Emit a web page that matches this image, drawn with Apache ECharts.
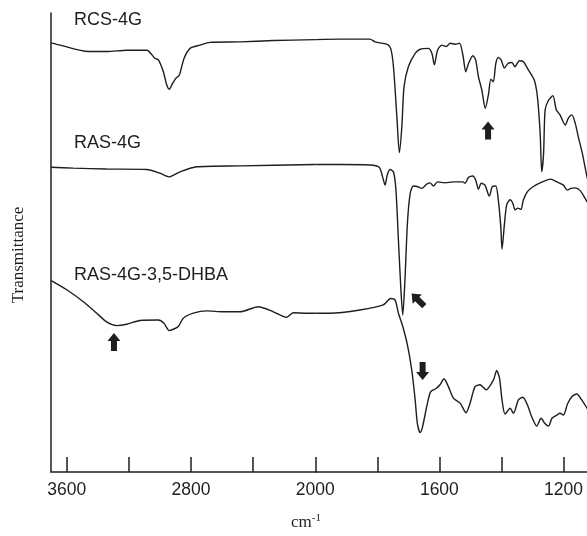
<!DOCTYPE html>
<html>
<head>
<meta charset="utf-8">
<script src="https://cdn.jsdelivr.net/npm/echarts@6/dist/echarts.min.js"></script>
<style>
html,body{margin:0;padding:0;background:#fff;}
#chart{width:587px;height:536px;}
</style>
</head>
<body>
<div id="chart"></div>
<script>
// Wavenumbers (cm-1) and transmittance (arbitrary offset units)
const rcsWn = [3700,3643,3461,3343,3214,3085,3032,3010,2978,2956,2940,2918,2897,2875,2845,2806,2742,2678,2485,2270,2000,
  1920,1824,1807,1770,1757,1748,1737,1729,1721,1714,1700,1678,1662,1635,1624,1616,1606,1592,1578,1565,1549,1535,1524,1515,1506,1492,1483,1474,1463,1452,1442,1434,1426,1418,1410,1401,1390,1379,1366,1356,1342,1329,1313,1294,1284,1275,1270,1264,1259,1248,1234,1223,1211,1194,1184,1173,1162,1152,1139,1124,1115];
const rcsT = [93.5,93.0,91.6,91.6,91.9,91.9,90.1,89.8,87.2,84.3,83.4,84.7,85.8,86.5,90.1,92.3,93.0,93.6,93.7,94.0,94.2,
  94.3,94.3,93.7,93.2,92.3,88.3,77.4,69.6,75.2,83.9,88.3,91.2,92.1,92.3,91.2,88.7,91.9,93.0,92.7,93.4,93.2,93.4,90.8,87.2,89.0,90.7,89.8,86.1,83.2,79.2,82.1,85.6,85.0,89.0,90.3,89.8,88.0,89.0,89.2,88.3,89.6,89.4,87.6,85.4,81.8,73.8,65.4,69.4,78.9,81.0,82.0,78.9,77.8,75.6,77.1,77.8,76.0,73.0,69.4,64.3,62.0];

const rasWn = [3700,3558,3343,3085,3000,2942,2871,2763,2485,2000,
  1920,1824,1794,1783,1775,1768,1759,1748,1740,1732,1724,1718,1711,1703,1694,1684,1671,1657,1641,1630,1619,1606,1582,1555,1524,1517,1506,1492,1483,1474,1465,1453,1439,1429,1418,1410,1402,1398,1391,1383,1372,1363,1356,1347,1337,1329,1316,1297,1275,1241,1221,1200,1187,1176,1162,1146,1130,1115];
const rasT = [66.4,66.2,66.0,65.9,65.1,64.3,65.4,66.5,66.7,67.0,
  67.0,66.9,66.4,64.3,62.5,64.7,65.9,65.4,61.4,50.5,39.7,34.2,41.8,54.2,60.7,62.3,62.2,61.8,62.7,63.0,62.3,63.2,63.0,63.2,63.2,62.9,64.2,64.5,63.6,61.6,62.9,62.5,60.1,62.2,62.3,59.3,53.4,48.5,53.4,58.2,59.3,58.5,57.1,57.5,57.2,59.3,61.1,62.2,63.0,63.8,63.2,62.5,61.4,61.8,61.9,61.3,59.6,57.8];

const dhbaWn = [3700,3600,3493,3407,3343,3278,3214,3128,3010,2974,2940,2914,2882,2850,2785,2699,2592,2485,2367,2270,2184,2142,2055,2000,
  1953,1856,1781,1757,1743,1732,1718,1703,1689,1678,1671,1662,1654,1641,1628,1611,1598,1585,1571,1555,1533,1514,1501,1485,1469,1449,1426,1415,1406,1398,1388,1372,1361,1345,1331,1316,1302,1286,1272,1259,1248,1237,1221,1211,1200,1187,1173,1157,1141,1124,1115];
const dhbaT = [41.7,39.7,37.1,34.6,32.7,31.9,32.2,33.0,33.1,32.4,30.8,31.1,31.7,33.5,34.6,35.1,34.9,34.9,36.0,34.9,33.7,34.7,34.6,34.6,
  34.6,35.3,36.4,37.8,37.5,34.6,31.7,27.7,22.2,15.7,10.6,8.6,9.9,14.2,17.5,18.2,19.0,20.3,18.6,16.1,15.0,12.9,15.0,18.6,19.0,17.9,20.0,22.1,20.4,15.7,12.6,13.9,12.8,15.7,16.3,14.6,12.0,10.0,11.7,10.5,10.0,11.7,12.4,12.8,12.4,14.8,16.4,17.0,15.7,13.9,12.9];

const sampleNames = ['RCS-4G','RAS-4G','RAS-4G-3,5-DHBA'];
const tickValuesHigh = [3600, 3200, 2800, 2400, 2000];
const tickLabelsHigh = [3600, 2800, 2000];
const tickValuesLow = [1800, 1600, 1400, 1200];
const tickLabelsLow = [1600, 1200];

// annotation arrows (wavenumber, transmittance, rotation in degrees)
const arrowWn = [1443, 1669, 1654, 3296];
const arrowT = [74.4, 37.5, 22.0, 28.3];
const arrowRot = [0, 45, 180, 0];

const INK = '#1e1e1e';
const SANS = "'Liberation Sans', Arial, Helvetica, sans-serif";
const SERIF = "'Liberation Serif', 'Times New Roman', serif";

function pairs(wn, t, hi) {
  const out = [];
  for (let i = 0; i < wn.length; i++) {
    if (hi ? wn[i] >= 2000 : wn[i] <= 2000) out.push([wn[i], t[i]]);
  }
  return out;
}
const arrowPath = 'path://M6.5,0 L13,8 L9.5,8 L9.5,18 L3.5,18 L3.5,8 L0,8 Z';
function marks(indices) {
  return {
    symbol: arrowPath, symbolSize: [13, 18], silent: true,
    itemStyle: {color: INK}, label: {show: false},
    data: indices.map(i => ({coord: [arrowWn[i], arrowT[i]], symbolRotate: arrowRot[i]}))
  };
}

function xAxisDef(gi, min, max, ticks, labels) {
  return {
    gridIndex: gi, type: 'value', inverse: true, min: min, max: max,
    axisLine: {show: true, onZero: false, lineStyle: {color: INK, width: 1.5}},
    axisTick: {show: true, inside: true, length: 15, customValues: ticks, lineStyle: {color: INK, width: 1.5}},
    splitLine: {show: false},
    axisLabel: {color: INK, fontSize: 17.5, fontFamily: SANS, margin: 9, customValues: labels,
      formatter: v => String(v)}
  };
}

const lineStyle = {color: INK, width: 1.4};
function lineSeries(name, xi, data, mp) {
  const s = {
    name: name, type: 'line', xAxisIndex: xi, yAxisIndex: xi, data: data,
    showSymbol: false, smooth: 0.25, lineStyle: lineStyle, silent: true, animation: false
  };
  if (mp) s.markPoint = mp;
  return s;
}

const chart = echarts.init(document.getElementById('chart'), null, {renderer: 'canvas'});
chart.setOption({
  animation: false,
  backgroundColor: '#fff',
  grid: [
    {left: 51.2, top: 13, width: 264.1, height: 459},
    {left: 315.3, top: 13, width: 271.7, height: 459}
  ],
  xAxis: [
    xAxisDef(0, 2000, 3700, tickValuesHigh, tickLabelsHigh),
    xAxisDef(1, 1124, 2000, tickValuesLow, tickLabelsLow)
  ],
  yAxis: [
    {gridIndex: 0, type: 'value', min: 0, max: 100,
      axisLine: {show: true, lineStyle: {color: INK, width: 1.5}}, axisTick: {show: false}, axisLabel: {show: false}, splitLine: {show: false}},
    {gridIndex: 1, type: 'value', min: 0, max: 100, show: false, splitLine: {show: false}}
  ],
  series: [
    lineSeries(sampleNames[0], 0, pairs(rcsWn, rcsT, true)),
    lineSeries(sampleNames[0], 1, pairs(rcsWn, rcsT, false), marks([0])),
    lineSeries(sampleNames[1], 0, pairs(rasWn, rasT, true)),
    lineSeries(sampleNames[1], 1, pairs(rasWn, rasT, false), marks([1])),
    lineSeries(sampleNames[2], 0, pairs(dhbaWn, dhbaT, true), marks([3])),
    lineSeries(sampleNames[2], 1, pairs(dhbaWn, dhbaT, false), marks([2]))
  ],
  graphic: [
    {type: 'text', x: 74, y: 20, style: {text: sampleNames[0], fontSize: 18, fontFamily: SANS, fill: INK, verticalAlign: 'middle'}},
    {type: 'text', x: 74, y: 143.5, style: {text: sampleNames[1], fontSize: 18, fontFamily: SANS, fill: INK, verticalAlign: 'middle'}},
    {type: 'text', x: 74, y: 275, style: {text: sampleNames[2], fontSize: 18, fontFamily: SANS, fill: INK, verticalAlign: 'middle'}},
    {type: 'text', x: 19, y: 255, rotation: Math.PI / 2,
      style: {text: 'Transmittance', fontSize: 17, fontFamily: SERIF, fill: INK, align: 'center', verticalAlign: 'middle'}},
    {type: 'text', x: 306, y: 523,
      style: {text: '{a|cm}{b|-1}', fill: INK, align: 'center', verticalAlign: 'middle',
        rich: {a: {fontSize: 17, fontFamily: SERIF, fill: INK}, b: {fontSize: 11, fontFamily: SERIF, fill: INK, padding: [0, 0, 9, 0]}}}}
  ]
});
</script>
</body>
</html>
